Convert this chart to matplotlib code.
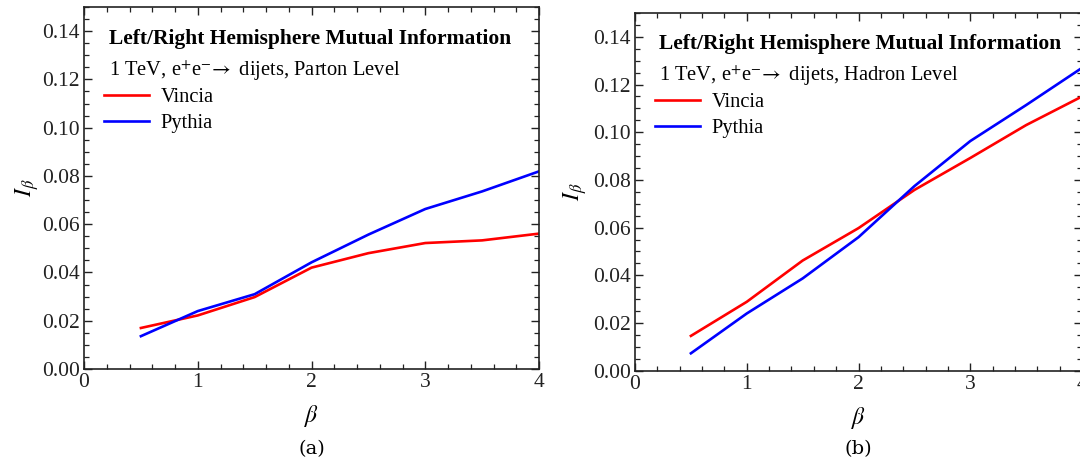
import matplotlib
matplotlib.use("Agg")
import matplotlib.pyplot as plt
from matplotlib.ticker import MultipleLocator, FormatStrFormatter

# data
beta = [0.5, 1.0, 1.5, 2.0, 2.5, 3.0, 3.5, 4.0]

# (a) parton level
vincia_parton = [0.0170, 0.0222, 0.0298, 0.0420, 0.0480, 0.0522, 0.0533, 0.0561]
pythia_parton = [0.0136, 0.0240, 0.0310, 0.0442, 0.0557, 0.0663, 0.0736, 0.0819]

# (b) hadron level
vincia_hadron = [0.0146, 0.0289, 0.0462, 0.0598, 0.0758, 0.0892, 0.1030, 0.1150]
pythia_hadron = [0.0073, 0.0240, 0.0387, 0.0560, 0.0774, 0.0963, 0.1114, 0.1270]

subtitles = ["1 TeV, e$^{+}$e$^{-}\\!\\rightarrow$ dijets, Parton Level",
             "1 TeV, e$^{+}$e$^{-}\\!\\rightarrow$ dijets, Hadron Level"]
panel_tags = ["(a)", "(b)"]

plt.rcParams["font.family"] = ["Liberation Serif", "DejaVu Serif"]
plt.rcParams["mathtext.fontset"] = "stix"

fig = plt.figure(figsize=(10.8, 4.62), dpi=100)
ax1 = fig.add_axes([0.0778, 0.2013, 0.4213, 0.7835])
ax2 = fig.add_axes([0.5880, 0.1976, 0.4139, 0.7743])


def draw_panel(ax, vincia, pythia, subtitle, tag, ylab_x):
    ax.plot(beta, vincia, color="#ff0000", lw=1.9, label="Vincia")
    ax.plot(beta, pythia, color="#0000ff", lw=1.9, label="Pythia")
    ax.set_xlim(0, 4)
    ax.set_ylim(0, 0.15)
    ax.xaxis.set_major_locator(MultipleLocator(1))
    ax.xaxis.set_minor_locator(MultipleLocator(0.2))
    ax.yaxis.set_major_locator(MultipleLocator(0.02))
    ax.yaxis.set_minor_locator(MultipleLocator(0.005))
    ax.yaxis.set_major_formatter(FormatStrFormatter("%.2f"))
    ax.tick_params(which="both", direction="in", top=True, right=True,
                   labelsize=15.5, colors="#222222", labelcolor="#222222")
    ax.tick_params(which="major", length=6, width=1.0, pad=3)
    ax.tick_params(which="minor", length=3.5, width=0.9)
    for s in ax.spines.values():
        s.set_linewidth(1.2)
        s.set_color("#222222")
    ax.set_xlabel(r"$\beta$", fontsize=17, labelpad=8)
    ax.set_ylabel(r"$I_{\beta}$", fontsize=17)
    ax.yaxis.set_label_coords(ylab_x, 0.5)

    ax.text(0.054, 0.912, "Left/Right Hemisphere Mutual Information",
            transform=ax.transAxes, fontsize=15.5, fontweight="bold",
            ha="left", va="center")
    ax.text(0.054, 0.824, subtitle, transform=ax.transAxes, fontsize=14.8,
            ha="left", va="center")
    ax.legend(loc="upper left", bbox_to_anchor=(0.035, 0.788),
              frameon=False, fontsize=14.8, handlelength=2.2,
              handletextpad=0.55, labelspacing=0.33, borderaxespad=0,
              borderpad=0.2)
    ax.text(0.5, -0.22, tag, transform=ax.transAxes, fontsize=14,
            ha="center", va="center", family="DejaVu Serif")


draw_panel(ax1, vincia_parton, pythia_parton, subtitles[0], panel_tags[0], -0.095)
draw_panel(ax2, vincia_hadron, pythia_hadron, subtitles[1], panel_tags[1], -0.103)

fig.savefig("out.png", dpi=100)
